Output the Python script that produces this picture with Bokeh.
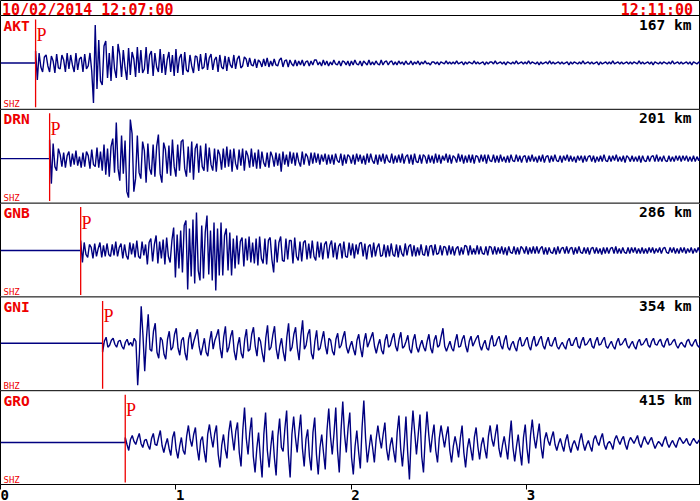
import numpy as np
from bokeh.plotting import figure
from bokeh.models import Range1d, FixedTicker, Span, ColumnDataSource
from bokeh.core.properties import value
from bokeh.embed import file_html
from bokeh.resources import INLINE

# ---------------- data ----------------
stations = ["AKT", "DRN", "GNB", "GNI", "GRO"]
components = ["SHZ", "SHZ", "SHZ", "BHZ", "SHZ"]
distances_km = [167, 201, 286, 354, 415]
p_arrival_min = [0.200, 0.280, 0.457, 0.582, 0.711]
start_label = "10/02/2014 12:07:00"
end_label = "12:11:00"
tick_values = [0, 1, 2, 3]
tick_labels = ["0", "1", "2", "3"]
sample_step_min = [0.01, 0.01, 0.01, 0.01, 0.01]

# amplitudes (reference pixels, + = up), from the P onset on
amp_akt = [
    12, -17, 10, -4, -9, 6, 8, -3, -9, 7, 2, -10, 9, -5, -6, 8, 3, -9, 10, -6,
    8, -2, -9, 10, -7, 4, 6, -9, 9, -6, -3, 10, -8, -40, 38, -26, 23, -18, -22, 17,
    22, -15, 10, -18, 17, -6, -15, 19, 8, -14, 13, -5, -17, 15, -12, 11, 4, -14, 16, -10,
    13, -10, -6, 16, -11, 8, 12, -13, 10, -4, -9, 14, -10, 9, -12, 3, 11, -9, 8, -13,
    14, -10, 5, 9, -12, 11, -7, -9, 8, -3, -10, 7, 6, -8, 9, -6, -4, 10, -7, 5,
    9, -7, 3, 6, -9, 8, -4, -6, 7, -8, 6, -2, -5, 8, -6, 4, 7, -5, -3, 6,
    4, -4, 5, -2, -3, 4, -5, 3, 1, -4, 4, -3, 5, -4, 2, -3, 4, -2, -3, 3,
    5, -4, 2, 3, -4, 3, -1, -3, 3, -3, 2, -2, 3, -3, 1, 2, -3, 2, -2, 3,
    3, -2, 1, -3, 3, -2, 2, -3, 1, -2, 3, -1, -2, 2, -3, 2, 1, -2, 2, -3,
    2, -2, 3, -1, -2, 2, -3, 2, 0, -2, 3, -2, 1, -2, 2, -1, -2, 3, -2, 1,
    2, -2, 1, 2, -2, 1, -2, 2, -1, 1, -2, 2, -1, -1, 2, -2, 1, -1, 2, -2,
    1, -1, 2, -1, 0, -2, 1, 1, -1, 1, -2, 1, 0, -1, 2, -1, 1, -1, 1, -1,
    2, -1, 0, 1, -2, 1, -1, 1, 0, -1, 2, -1, 1, -1, 0, 1, -2, 1, -1, 1,
    1, -1, 2, -1, 0, 1, -1, 1, -2, 1, 0, -1, 1, -1, 2, -1, 0, 1, -1, 1,
    -1, 2, -1, 1, 0, -1, 1, -2, 1, -1, 0, 1, -1, 2, -1, 1, -1, 0, 1, -1,
    1, -1, 0, 1, -2, 1, -1, 1, 0, -1, 1, -1, 2, -1, 0, 1, -1, 1, -1, 0,
    1, -2, 1, -1, 0, 1, -1, 1, -1, 2, -1, 0, 1, -1, 1, -1, 0, 1, -1, 1,
    -1, 1, 0, -1, 2, -1, 1, -1, 0, 1, -1, 1, -2, 1, 0, -1, 1, -1, 1, 0,
    -1, 1, -1, 2, -1, 0, 1, -1, 1, -1, 0, 1, -1, 1, -2, 1, 0, -1, 1, -1,
    1, -1,
]
amp_drn = [
    19, -25, 15, -8, -12, 10, 4, -8, 6, -9, 3, 7, -8, 5, -6, 8, -7, 2, -9, 6,
    -8, 7, 3, -10, 9, -6, -8, 11, -9, 7, -12, 14, -16, 10, -18, 12, 20, -14, 36, -10,
    -22, 23, -15, 18, -33, -39, 39, 25, -33, -20, 23, -14, -20, 17, 8, -24, 15, -10, -16, 14,
    -18, 12, 24, -15, -24, 16, 9, -15, 13, -17, 19, -8, -18, 14, -12, 17, 19, -10, -18, 12,
    -14, 17, -21, 10, 15, -14, 13, -8, -12, 15, -13, 11, -6, -12, 10, -13, 9, 4, -11, 10,
    -9, 12, -8, 9, -13, 10, -5, -11, 9, -7, 10, -12, 8, 3, -9, 10, -8, 6, -10, 9,
    -10, 7, -4, -8, 6, -9, 7, 2, -8, 6, -7, 5, -13, 7, -6, 4, -8, 7, -5, 6,
    -7, 6, -3, -8, 7, -6, 5, 2, -7, 6, -5, 6, -4, 5, -6, 4, -3, 5, -6, 4,
    -5, 4, -6, 5, -2, -4, 5, -7, 4, -5, 4, 2, -5, 4, -6, 5, -3, 4, -5, 3,
    -6, 5, -4, 5, -2, -5, 4, -6, 4, -3, 5, -5, 4, -2, -4, 5, -5, 3, -4, 4,
    -4, 5, -5, 2, 4, -5, 4, -6, 5, -3, -4, 4, -5, 4, 2, -5, 4, -4, 3, -5,
    5, -4, 4, -5, 3, -2, 5, -4, 4, -5, 3, 1, -4, 5, -3, 4, -5, 3, -4, 4,
    -4, 4, -5, 3, 2, -4, 4, -3, 4, -5, 4, -2, -3, 4, -4, 3, -4, 4, -3, 2,
    -4, 3, -4, 4, -2, -3, 4, -3, 3, -4, 2, 3, -4, 3, -3, 4, -3, 2, -4, 3,
    -3, 4, -4, 2, 3, -4, 3, -3, 4, -2, -3, 3, -4, 3, -2, 4, -3, 3, -3, 2,
    -4, 3, -2, 3, -4, 3, -3, 2, 3, -3, 3, -4, 2, -3, 3, -3, 4, -2, -3, 3,
    -3, 3, -2, 4, -3, 2, -3, 3, -4, 3, 1, -3, 3, -3, 2, -3, 3, -4, 3, -2,
    -3, 3, -3, 2, 3, -3, 4, -3, 2, -3, 3, -2, -3, 3, -3, 2, -3, 3, -2, 3,
    -3, 3, -2, 3, -3, 2, -3, 3, -3, 2, -2, 3, -3, 2, -3, 3, -2, 3, -3, 2,
]
amp_gnb = [
    10, -12, 8, -4, -7, 6, 3, -8, 7, -6, 2, 8, -7, 5, -6, 7, -4, -6, 6, -5,
    9, -6, 3, 7, -8, 6, -5, -9, 8, -4, 7, -7, 10, -6, -8, 9, -5, 6, -14, 8,
    12, -11, 6, 15, -13, 9, -8, 11, -14, 13, -6, -12, 10, 23, -27, 16, -18, 20, -22, 25,
    30, -39, 22, -26, 31, -33, 38, -20, -30, 25, -28, 18, 35, -24, 20, -30, 28, -40, 22, -25,
    28, -25, 15, 22, -20, 18, -25, 12, -18, 15, -14, 9, 13, -16, 12, -10, 14, -12, 8, -13,
    12, -15, 14, -8, -13, 12, -14, 10, 13, -9, -22, 11, -12, 8, 14, -10, -11, 12, -9, 10,
    10, -13, 13, -6, -10, 9, -11, 8, 10, -9, 7, -8, 10, -6, -10, 9, -7, 8, -9, 6,
    9, -8, 5, 10, -7, 8, -9, 4, 7, -8, 9, -6, -7, 8, -5, 7, -8, 6, -4, 7,
    8, -6, 7, -9, 4, 6, -7, 8, -6, 3, 7, -6, -5, 6, -7, 5, -6, 7, -4, -6,
    6, -7, 5, -3, -6, 7, -5, 4, 6, -6, 5, -6, 3, -5, 6, -4, -5, 5, -6, 4,
    5, -5, 6, -4, -3, 5, -5, 4, 3, -5, 5, -4, 4, -5, 2, 4, -5, 3, -4, 5,
    4, -5, 5, -4, 2, -4, 5, -4, 4, -3, -4, 4, -5, 4, 3, -4, 4, -4, 3, -3,
    4, -4, 3, -5, 4, -2, -3, 4, -4, 3, -4, 4, 2, -3, 4, -4, 3, -3, 4, -3,
    4, -3, 2, 4, -4, 3, -4, 3, -2, -3, 3, -4, 4, -3, 2, 3, -3, 4, -3, 2,
    3, -4, 3, -3, 4, -2, -3, 3, -3, 3, -4, 2, 3, -3, 3, -3, 2, -4, 3, -3,
    3, -3, 2, 3, -3, 4, -3, 2, -3, 3, -2, -3, 3, -3, 3, -2, 3, -3, 2, -3,
    3, -3, 2, -3, 3, -2, 3, -3, 2, -2, 3, -3, 2, 3, -2, -3, 3, -2, 3, -3,
    2, -3, 3, -2, 3, -3, 2, -2, 3, -3, 2, -2, 3, -2, 2, -3, 3, -2, 2, -2,
]
amp_gni = [
    -9, 2, 6, -4, -2, 3, 5, -1, -4, 2, 3, -3, -6, 1, 4, -2, 1, -3, 5, 2,
    -42, -10, 37, 8, -28, 5, 29, -6, -8, 12, 20, -9, -15, 6, 3, -11, -16, 4, 12, -7,
    -4, 9, 15, -5, -12, 3, 6, -10, -17, 4, 11, -6, 2, 8, 14, -3, -12, -4, 5, -9,
    -13, 2, 12, -6, 3, 8, 14, -5, -15, 6, 17, -9, -4, 7, 13, -8, -17, -2, 6, -10,
    -15, 4, 14, -8, -6, 9, 16, -3, -13, 6, 2, -10, -19, 5, 18, -7, -4, 8, 17, -6,
    -16, -3, 5, -9, -18, 6, 20, -8, -4, 9, 16, -5, -17, 7, 23, -6, -2, 9, 14, -10,
    -16, 2, 13, -7, -5, 4, 12, -3, -11, 5, 3, -8, -12, 4, 10, -5, -2, 6, 12, -4,
    -10, -3, 2, -6, -12, 3, 9, -5, -14, 2, 10, -4, 1, 6, 11, -3, -10, -2, 4, -7,
    -11, 3, 9, -4, -2, 5, 10, -3, -8, 4, 11, -5, -3, 2, 8, -6, -10, 3, 9, -4,
    -9, -2, 3, -4, -8, 2, 9, -5, -10, 3, 8, -4, -2, 7, 15, -3, -8, -3, 2, -5,
    -8, 2, 9, -4, -3, 4, 8, -3, -9, 2, 7, -3, 1, 5, 8, -2, -7, -1, 3, -5,
    -7, 3, 8, -3, -2, 4, 7, -2, -6, 3, 8, -4, -7, -1, 2, -4, -8, 2, 6, -3,
    -2, 3, 6, -3, -7, 2, 7, -3, -1, 4, 7, -2, -6, 1, 6, -2, -3, 2, 6, -3,
    -6, -2, 1, -3, -6, 2, 5, -2, -2, 3, 6, -3, -5, 2, 6, -2, -1, 2, 5, -3,
    -5, 2, 6, -2, -1, 3, 6, -3, -5, -1, 2, -3, -6, 1, 5, -2, -1, 2, 5, -2,
    -5, -1, 2, -3, -6, 1, 4, -2, -1, 2, 5, -2, -4, 2, 5, -1, -2, 2, 4, -2,
    -4, 2, 5, -2, -1, 2, 4, -2, -5, -1, 1, -2, -4, 2, 4, -1, -3, 1, 4, -2,
    -4, 1, 3, -2, -3, 1,
]
amp_gro = [
    5, -2, -8, 3, 7, 1, -2, 4, 9, -1, -5, 2, 3, -3, -7, 4, 9, -2, -3, 5,
    12, -3, -10, -2, 4, -6, -13, 5, 11, -7, -16, -4, 5, -8, -12, 6, 17, 3, -4, 8,
    15, -6, -18, 2, 6, -9, -20, 8, 18, 5, -5, 9, 17, -12, -25, -3, 8, -7, -16, 10,
    22, 6, -8, 11, 20, -10, -24, 12, 35, 4, -12, 10, 25, -14, -30, -6, 10, -15, -35, 8,
    30, -8, -25, -4, 12, -15, -33, 6, 24, -5, -9, 14, 32, -12, -35, 8, 26, 5, -10, 11,
    28, -6, -24, 3, 13, -14, -28, 10, 25, -12, -32, -5, 8, -10, -27, 12, 34, 6, -12, 9,
    35, -8, -30, 12, 41, 8, -10, 14, 30, -15, -32, -4, 12, -9, -26, 15, 42, 4, -20, -6,
    8, -5, -20, 3, 17, 4, -6, 8, 20, -7, -18, -3, 5, -9, -20, 10, 27, -6, -24, -2,
    26, -10, -37, 6, 32, 10, -12, 8, 28, -14, -30, 5, 31, 8, -10, 6, 18, -8, -20, 4,
    17, 6, -5, 7, 16, -8, -20, -4, 6, -3, -15, 4, 17, -10, -25, -6, 4, -7, -18, 5,
    15, -4, -17, -2, 5, -7, -16, 6, 17, 3, -4, 8, 18, -6, -15, -3, 6, -5, -17, 4,
    22, -5, -19, -4, 8, -9, -23, 5, 18, -6, -21, 7, 23, 5, -6, 7, 19, -4, -16, 3,
    10, 2, -3, 5, 11, -2, -8, -1, 4, -3, -9, 2, 8, -3, -10, -2, 2, -3, -8, 2,
    9, -1, -8, -2, 2, -4, -9, 3, 7, 1, -3, 4, 9, -2, -7, -1, 1, -2, -7, 3,
    7, 2, -2, 3, 6, -2, -7, 1, 5, 2, -1, 3, 7, -1, -5, 1, 6, 1, -2, 2,
    5, -1, -6, -2, 1, -1, -4, 2, 6, -1, -5, -1, 2, -2, -5, 1, 5, 2, -1, 1,
    4, -1, -3, 1, 4, 1, -1, 2, 3, -1, -3, 1, 2, -2, -3, 1, 3, -1, -2, 1,
]
amplitudes = [amp_akt, amp_drn, amp_gnb, amp_gni, amp_gro]

# ---------------- layout / style ----------------
FW, FH = 700, 484
T_END = 3.99
HEADER_PX = 15
PANEL_PX = (FH - HEADER_PX) / 5.0
REF_PANEL_PX = 93.8
Y_TOP = 5 + HEADER_PX / PANEL_PX
PPX = FW / T_END
baseline_frac = [0.506, 0.526, 0.505, 0.494, 0.552]  # trace zero line, fraction of panel from top

RED = "#ee0000"
NAVY = "#000080"
MONO = "DejaVu Sans Mono"


def dy(px):
    return px / PANEL_PX


def dx(px):
    return px / PPX


p = figure(frame_width=FW, frame_height=FH,
           x_range=Range1d(0, T_END), y_range=Range1d(0, Y_TOP),
           output_backend="svg", toolbar_location=None,
           y_axis_location=None,
           min_border_left=0, min_border_right=0, min_border_top=0, min_border_bottom=0,
           background_fill_color="white", border_fill_color="white",
           outline_line_color="black", outline_line_width=1)
p.xgrid.visible = False

ax = p.xaxis[0]
ax.ticker = FixedTicker(ticks=tick_values)
# labels sit just right of their tick (first one is pushed in from the edge)
ax.major_label_overrides = {v: (l if v == tick_values[0] else "\u00a0" + l)
                            for v, l in zip(tick_values, tick_labels)}
ax.major_tick_out = 5
ax.major_tick_in = 0
ax.minor_tick_out = 0
ax.minor_tick_in = 0
ax.major_tick_line_color = "black"
ax.axis_line_color = "black"
ax.major_label_standoff = -3
ax.major_label_text_font = MONO
ax.major_label_text_font_size = "14px"
ax.major_label_text_font_style = "bold"
ax.major_label_text_color = "black"

# panel separators
for k in range(1, 6):
    p.add_layout(Span(location=k, dimension="width", line_color="black", line_width=1))

# waveforms
for k, amps in enumerate(amplitudes):
    t0 = p_arrival_min[k]
    step = sample_step_min[k]
    top = 5 - k
    base = top - baseline_frac[k]
    xs = [0.0, t0] + [t0 + step * i for i in range(len(amps))]
    ys = [base, base] + [base + a / REF_PANEL_PX for a in amps]
    src = ColumnDataSource(dict(x=xs, y=ys))
    p.line("x", "y", source=src, line_color=NAVY, line_width=1.4)

# P markers
tops = [5 - k for k in range(5)]
p.segment(x0=p_arrival_min, x1=p_arrival_min,
          y0=[t - 1 + dy(2) for t in tops], y1=[t - dy(4) for t in tops],
          line_color=RED, line_width=1.3)
p.text(x=[t + dx(0.8) for t in p_arrival_min], y=[t - dy(19.5) for t in tops],
       text=["P"] * 5, text_font=value("Liberation Serif"), text_font_size=value("18px"),
       text_color=RED, text_align="left", text_baseline="alphabetic")

# station names
p.text(x=[dx(3)] * 5, y=[t - dy(10) for t in tops], text=stations,
       text_font=value(MONO), text_font_size=value("14.5px"), text_font_style="bold",
       text_color=RED, text_align="left", text_baseline="alphabetic")
# components
p.text(x=[dx(3)] * 5, y=[t - 1 + dy(5) for t in tops], text=components,
       text_font=value(MONO), text_font_size=value("9px"),
       text_color=RED, text_align="left", text_baseline="alphabetic")
# distances
p.text(x=[T_END - dx(9)] * 5, y=[t - dy(9) for t in tops],
       text=[f"{d} km" for d in distances_km],
       text_font=value(MONO), text_font_size=value("14.5px"), text_font_style="bold",
       text_color="black", text_align="right", text_baseline="alphabetic")
# header
p.text(x=[dx(1.5)], y=[Y_TOP - dy(9)], text=[start_label],
       text_font=value(MONO), text_font_size=value("15px"), text_font_style="bold",
       text_color=RED, text_align="left", text_baseline="alphabetic")
p.text(x=[T_END - dx(7.5)], y=[Y_TOP - dy(9)], text=[end_label],
       text_font=value(MONO), text_font_size=value("15px"), text_font_style="bold",
       text_color=RED, text_align="right", text_baseline="alphabetic")

open("out.html", "w").write(file_html(p, INLINE))
